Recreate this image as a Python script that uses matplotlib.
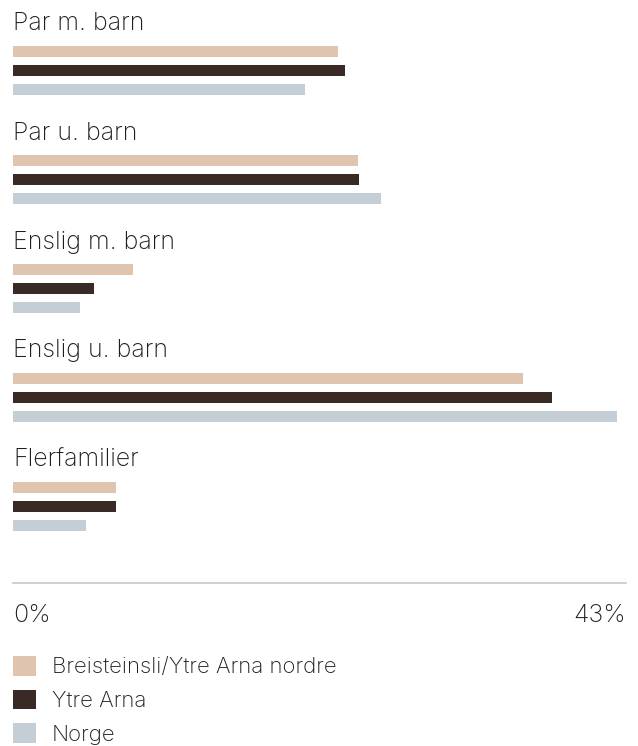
import matplotlib.pyplot as plt
from matplotlib.patches import Patch

plt.rcParams['font.family'] = ['Inter', 'DejaVu Sans']

categories = ['Par m. barn', 'Par u. barn', 'Enslig m. barn', 'Enslig u. barn', 'Flerfamilier']
series_names = ['Breisteinsli/Ytre Arna nordre', 'Ytre Arna', 'Norge']
breisteinsli = [22.8, 24.2, 8.4, 35.8, 7.2]
ytre_arna = [23.3, 24.3, 5.7, 37.8, 7.2]
norge = [20.5, 25.8, 4.7, 42.4, 5.1]
tick_labels = ['0%', '43%']
xmax = 43

colors = ['#dfc5b0', '#3a2a25', '#c5ced4']
text_color = '#1e1e1e'

W, H = 638, 746
fig = plt.figure(figsize=(W / 100, H / 100), dpi=100)
left, right = 13, 626
ax = fig.add_axes([left / W, 0, (right - left) / W, 1])
ax.set_xlim(0, xmax)
ax.set_ylim(H, 0)
ax.axis('off')

group_gap = 109
bar_gap = 19
first = 51.5
for j, vals in enumerate([breisteinsli, ytre_arna, norge]):
    ys = [first + i * group_gap + j * bar_gap for i in range(len(categories))]
    ax.barh(ys, vals, height=11, color=colors[j], linewidth=0)

# group labels sit on their baseline ~20px above the first bar
for i, cat in enumerate(categories):
    ax.text(0, first + i * group_gap - 21, cat, fontsize=18, color=text_color,
            ha='left', va='baseline', fontweight='light')

# axis line and ticks
ax.plot([0, xmax], [583, 583], color='#c8c8c8', linewidth=1.2, clip_on=False)
ax.text(0, 621.5, tick_labels[0], fontsize=18, color=text_color, ha='left',
        va='baseline', fontweight='light')
ax.text(xmax, 621.5, tick_labels[1], fontsize=18, color=text_color, ha='right',
        va='baseline', fontweight='light')

handles = [Patch(facecolor=c, edgecolor='none') for c in colors]
fig.legend(handles, series_names, loc='upper left',
           bbox_to_anchor=(13 / W, 1 - 656 / H), frameon=False,
           prop={'size': 16, 'weight': 'light'},
           handlelength=1.04, handleheight=0.99, labelspacing=0.55,
           handletextpad=0.72, labelcolor=text_color, borderaxespad=0, borderpad=0)

fig.savefig('out.png', dpi=100)
